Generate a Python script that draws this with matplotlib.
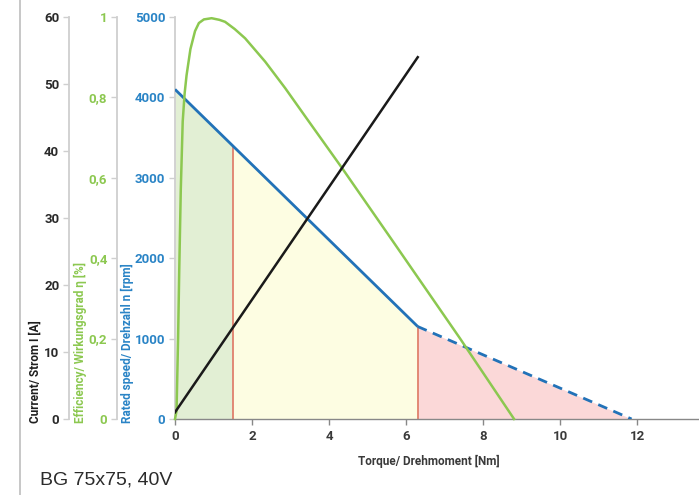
import matplotlib
matplotlib.use("Agg")
import matplotlib.pyplot as plt
import numpy as np
from matplotlib.lines import Line2D

# Motor characteristic data
torque_speed = [0.0, 6.3, 11.85]          # Nm
speed_rpm = [4100, 1150, 0]               # rpm

torque_current = [0.0, 6.3]               # Nm
current_a = [1.0, 54.0]                   # A

torque_eff = [0.0, 0.04, 0.08, 0.11, 0.15, 0.2, 0.25, 0.3, 0.4, 0.52, 0.62, 0.75,
              0.95, 1.15, 1.3, 1.55, 1.82, 2.08, 2.34, 2.6, 2.86, 3.4, 4.33, 5.67,
              7.4, 8.8]
efficiency = [0.0, 0.02, 0.2, 0.37, 0.57, 0.74, 0.81, 0.855, 0.92, 0.965, 0.985, 0.994,
              0.997, 0.993, 0.988, 0.97, 0.947, 0.918, 0.889, 0.856, 0.823, 0.75, 0.625, 0.44,
              0.2, 0.0]

zone_limits = [0.0, 1.5, 6.3, 11.85]      # continuous / short-term / peak
zone_colors = ["#e2efd4", "#fdfde2", "#fbd8d8"]

x_ticks = [0, 2, 4, 6, 8, 10, 12]
speed_ticks = [0, 1000, 2000, 3000, 4000, 5000]
eff_ticks = [0, 0.2, 0.4, 0.6, 0.8, 1.0]
eff_labels = ["0", "0,2", "0,4", "0,6", "0,8", "1"]
current_ticks = [0, 10, 20, 30, 40, 50, 60]

BLUE = "#2272b8"
BLUE_TXT = "#2a84c6"
GREEN = "#8cc850"
BLACK = "#1a1a1a"
RED = "#e0806c"
SPINE = "#cfcfcf"
FONT = ["Roboto", "DejaVu Sans"]

plt.rcParams["font.family"] = FONT

fig = plt.figure(figsize=(6.99, 4.95), dpi=100)
W, H = 699, 495
ax = fig.add_axes([175 / W, 1 - 419 / H, 524 / W, (419 - 17) / H])

# Operating zones under the speed curve
for (x0, x1), col in zip(zip(zone_limits[:-1], zone_limits[1:]), zone_colors):
    xs = np.linspace(x0, x1, 50)
    ax.fill_between(xs, 0, np.interp(xs, torque_speed, speed_rpm), color=col, lw=0, zorder=1)
for xb in zone_limits[1:3]:
    ax.plot([xb, xb], [0, np.interp(xb, torque_speed, speed_rpm)], color=RED, lw=1.3, zorder=2)

# Speed curve: solid up to rated torque, dashed beyond
ax.plot(torque_speed[:2], speed_rpm[:2], color=BLUE, lw=2.0, zorder=5, solid_capstyle="butt")
ax.plot(torque_speed[1:], speed_rpm[1:], color=BLUE, lw=2.0, zorder=5, ls=(0, (3.5, 2.4)))

ax.set_xlim(0, 13.6)
ax.set_ylim(0, 5000)
ax.set_xticks(x_ticks)
ax.set_yticks(speed_ticks)
for s in ["top", "right"]:
    ax.spines[s].set_visible(False)
ax.spines["left"].set_color(SPINE)
ax.spines["left"].set_linewidth(1.3)
ax.spines["bottom"].set_color("#888888")
ax.spines["bottom"].set_linewidth(1.0)
ax.tick_params(axis="x", colors="#888888", length=4, width=1, labelsize=9.5,
               labelcolor="#3a3a3a", pad=4)
ax.tick_params(axis="y", colors=SPINE, length=4, width=1, labelsize=9.5,
               labelcolor=BLUE_TXT, pad=3)
for lab in ax.get_xticklabels() + ax.get_yticklabels():
    lab.set_fontweight("bold")
ax.set_xlabel("Torque/ Drehmoment [Nm]", fontsize=8.5, fontweight="bold", color="#3a3a3a",
              labelpad=6)
ax.xaxis.set_label_coords((429 - 175) / 524, -0.09)


def left_axis(offset_px, ylim, ticks, color, labels=None):
    a = ax.twinx()
    a.set_ylim(*ylim)
    a.yaxis.set_ticks_position("left")
    a.yaxis.set_label_position("left")
    a.spines["left"].set_visible(True)
    a.spines["left"].set_position(("axes", -offset_px / 524))
    a.spines["left"].set_color(SPINE)
    a.spines["left"].set_linewidth(1.3)
    for s in ["top", "right", "bottom"]:
        a.spines[s].set_visible(False)
    a.set_yticks(ticks)
    if labels is not None:
        a.set_yticklabels(labels)
    a.tick_params(axis="y", colors=SPINE, length=4, width=1, labelsize=9.5,
                  labelcolor=color, pad=3)
    for lab in a.get_yticklabels():
        lab.set_fontweight("bold")
    return a


ax_eff = left_axis(58, (0, 1), eff_ticks, GREEN, eff_labels)
ax_cur = left_axis(106, (0, 60), current_ticks, "#2a2a2a")

ax_eff.plot(torque_eff, efficiency, color=GREEN, lw=1.8, zorder=4, clip_on=False,
            solid_joinstyle="round")
ax_cur.plot(torque_current, current_a, color=BLACK, lw=1.8, zorder=4)

# Axis titles, rotated, anchored near the bottom of the axes
fig.text(35 / W, 1 - 423 / H, "Current/ Strom I [A]", rotation=90, ha="center", va="bottom",
         fontsize=8.5, fontweight="bold", color="#1e1e1e")
fig.text(80 / W, 1 - 423 / H, "Efficiency/ Wirkungsgrad \u03b7 [%]", rotation=90, ha="center",
         va="bottom", fontsize=8.5, fontweight="bold", color=GREEN)
fig.text(127 / W, 1 - 423 / H, "Rated speed/ Drehzahl n [rpm]", rotation=90, ha="center",
         va="bottom", fontsize=8.5, fontweight="bold", color=BLUE_TXT)

# Left frame line and model caption
fig.add_artist(Line2D([20 / W, 20 / W], [0, 1], color="#bdbdbd", lw=1.2))
fig.text(40 / W, 1 - 480 / H, "BG 75x75, 40V", fontsize=14, color="#2b2b2b",
         family=["Liberation Sans", "DejaVu Sans"], va="center", ha="left")

fig.savefig("out.png", dpi=100)
